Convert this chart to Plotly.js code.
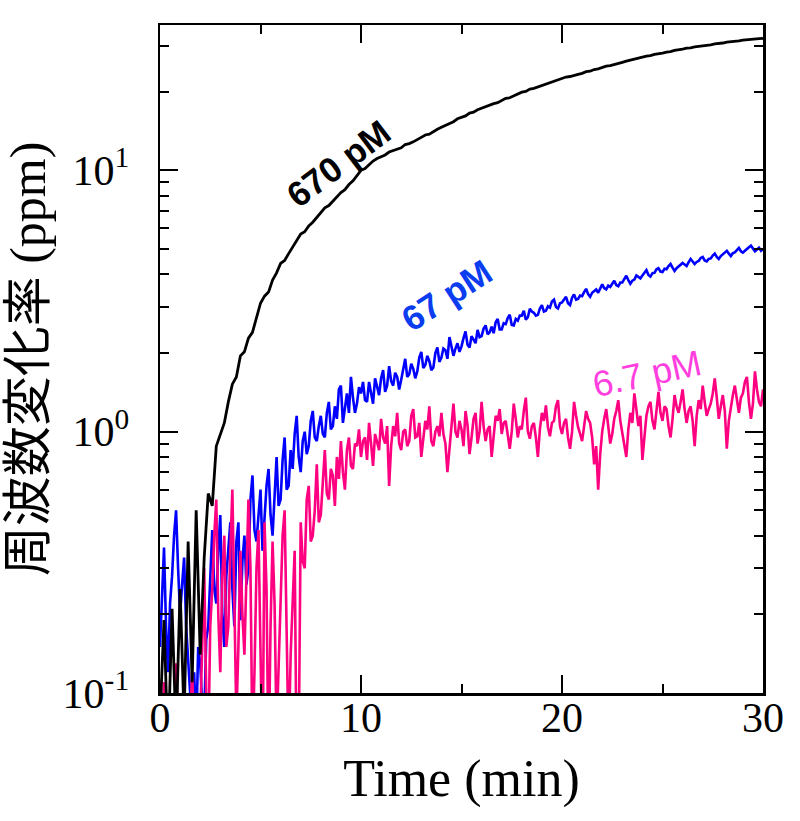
<!DOCTYPE html>
<html>
<head>
<meta charset="utf-8">
<script src="https://cdn.plot.ly/plotly-3.0.1.min.js"></script>
<style>
  html, body { margin: 0; padding: 0; background: #fff; }
  #chart { width: 800px; height: 821px; }
</style>
</head>
<body>
<div id="chart"></div>
<script>
// sampling (min): the 670 pM trace every 0.2 min, the two noisy traces every 0.1 min
var timeStart = 0;
var step670 = 0.2;
var stepNoisy = 0.1;

// frequency change (ppm)
var conc670 = [
  0.08, 0.19, 0.06, 0.21, 0.07, 0.25, 0.08, 0.38, 0.11, 0.50,
  0.14, 0.33, 0.58, 0.52, 0.88, 0.98, 1.08, 1.30, 1.52, 1.62,
  1.95, 2.02, 2.28, 2.40, 2.72, 3.10, 3.30, 3.42, 3.80, 4.05,
  4.40, 4.52, 4.80, 5.08, 5.32, 5.70, 5.82, 6.12, 6.33, 6.62,
  6.90, 7.18, 7.33, 7.62, 7.88, 8.22, 8.43, 8.82, 9.12, 9.58,
  10.0, 10.15, 10.5, 10.85, 11.1, 11.3, 11.45, 11.75, 11.9, 12.05,
  12.2, 12.55, 12.65, 12.85, 13.1, 13.3, 13.65, 13.75, 14.1, 14.35,
  14.6, 14.85, 15.15, 15.35, 15.75, 16.0, 16.15, 16.55, 16.7, 17.05,
  17.3, 17.45, 17.75, 18.0, 18.15, 18.5, 18.85, 18.95, 19.3, 19.65,
  19.9, 20.05, 20.45, 20.6, 20.85, 21.2, 21.45, 21.65, 21.95, 22.15,
  22.5, 22.75, 22.85, 23.15, 23.3, 23.5, 23.85, 23.95, 24.3, 24.45,
  24.8, 25.05, 25.15, 25.45, 25.65, 25.9, 26.15, 26.35, 26.65, 26.85,
  27.1, 27.35, 27.45, 27.75, 27.85, 28.1, 28.35, 28.45, 28.75, 28.85,
  29.1, 29.35, 29.4, 29.65, 29.75, 29.9, 30.15, 30.2, 30.45, 30.5,
  30.7, 30.95, 31.0, 31.25, 31.3, 31.5, 31.65, 31.7, 31.85, 31.9,
  32.0
];

// one row per minute
var conc67 = [
  0.15, 0.25, 0.36, 0.18, 0.12, 0.22, 0.28, 0.40, 0.50, 0.30,
  0.20, 0.26, 0.33, 0.18, 0.14, 0.10, 0.09, 0.12, 0.07, 0.15,
  0.13, 0.09, 0.08, 0.16, 0.18, 0.30, 0.42, 0.25, 0.22, 0.35,
  0.48, 0.20, 0.15, 0.28, 0.35, 0.45, 0.25, 0.18, 0.38, 0.45,
  0.19, 0.32, 0.40, 0.26, 0.30, 0.55, 0.68, 0.42, 0.38, 0.50,
  0.60, 0.35, 0.45, 0.62, 0.72, 0.48, 0.40, 0.58, 0.80, 0.52,
  0.55, 0.78, 0.95, 0.60, 0.62, 0.85, 0.72, 0.98, 1.15, 0.80,
  0.70, 0.92, 1.00, 0.82, 0.88, 1.10, 1.20, 0.95, 0.92, 1.05,
  1.15, 0.98, 0.95, 1.18, 1.30, 1.02, 1.05, 1.25, 1.12, 1.45,
  1.50, 1.08, 1.22, 1.40, 1.18, 1.62, 1.35, 1.18, 1.28, 1.48,
  1.40, 1.55, 1.32, 1.30, 1.55, 1.42, 1.28, 1.60, 1.48, 1.38,
  1.60, 1.72, 1.42, 1.50, 1.78, 1.56, 1.50, 1.68, 1.62, 1.45,
  1.58, 1.75, 1.90, 1.62, 1.66, 1.82, 1.74, 1.60, 1.70, 1.92,
  2.02, 1.75, 1.80, 1.95, 1.86, 1.72, 1.76, 2.00, 2.10, 1.85,
  1.92, 2.08, 2.05, 1.90, 2.30, 2.12, 1.95, 2.08, 2.18, 2.02,
  2.12, 2.28, 2.42, 2.15, 2.10, 2.32, 2.26, 2.18, 2.45, 2.30,
  2.32, 2.48, 2.55, 2.36, 2.40, 2.52, 2.38, 2.62, 2.70, 2.46,
  2.46, 2.60, 2.58, 2.72, 2.80, 2.56, 2.55, 2.70, 2.66, 2.78,
  2.78, 2.90, 2.68, 2.74, 2.95, 2.88, 2.85, 2.78, 2.80, 2.96,
  3.05, 2.88, 2.90, 3.02, 2.98, 3.15, 3.20, 3.00, 2.96, 3.10,
  3.12, 3.22, 3.28, 3.10, 3.05, 3.25, 3.35, 3.20, 3.22, 3.32,
  3.30, 3.42, 3.52, 3.36, 3.28, 3.40, 3.45, 3.50, 3.40, 3.55,
  3.66, 3.54, 3.50, 3.62, 3.58, 3.68, 3.78, 3.64, 3.60, 3.72,
  3.72, 3.84, 3.95, 3.80, 3.68, 3.78, 3.82, 3.96, 3.90, 3.86,
  3.96, 4.08, 4.15, 3.98, 3.92, 4.04, 4.05, 4.18, 4.22, 4.10,
  4.08, 4.20, 4.18, 4.30, 4.38, 4.24, 4.12, 4.22, 4.28, 4.35,
  4.42, 4.36, 4.30, 4.45, 4.58, 4.48, 4.38, 4.46, 4.50, 4.62,
  4.66, 4.52, 4.48, 4.58, 4.60, 4.72, 4.80, 4.66, 4.58, 4.70,
  4.78, 4.86, 4.92, 4.80, 4.70, 4.82, 4.85, 4.95, 5.05, 4.90,
  4.84, 4.92, 4.98, 5.08, 5.15, 5.00, 4.90, 4.98, 5.06, 4.92,
  5.00
];

var conc6_7 = [
  0.05, 0.08, 0.11, 0.06, 0.05, 0.09, 0.07, 0.05, 0.13, 0.08,
  0.05, 0.10, 0.09, 0.06, 0.06, 0.08, 0.12, 0.07, 0.05, 0.06,
  0.08, 0.15, 0.30, 0.10, 0.06, 0.18, 0.25, 0.40, 0.55, 0.20,
  0.12, 0.28, 0.40, 0.15, 0.18, 0.35, 0.60, 0.22, 0.08, 0.15,
  0.35, 0.20, 0.14, 0.28, 0.55, 0.30, 0.06, 0.12, 0.30, 0.42,
  0.10, 0.05, 0.45, 0.25, 0.05, 0.18, 0.38, 0.22, 0.07, 0.12,
  0.25, 0.40, 0.50, 0.15, 0.06, 0.14, 0.22, 0.35, 0.05, 0.06,
  0.45, 0.32, 0.30, 0.55, 0.62, 0.38, 0.40, 0.50, 0.75, 0.45,
  0.48, 0.62, 0.85, 0.58, 0.55, 0.72, 0.68, 0.52, 0.80, 0.66,
  0.92, 0.70, 0.60, 0.85, 0.95, 0.74, 0.72, 0.90, 0.88, 1.02,
  0.80, 0.92, 0.95, 0.78, 1.08, 0.90, 0.74, 0.98, 0.92, 0.85,
  1.12, 0.95, 0.90, 1.05, 0.62, 0.88, 1.05, 0.96, 1.18, 0.90,
  0.85, 1.00, 1.02, 0.88, 0.92, 1.15, 1.22, 0.95, 0.96, 1.08,
  0.80, 0.95, 1.10, 1.02, 1.25, 0.92, 0.88, 1.00, 1.05, 0.96,
  1.18, 0.98, 0.90, 0.70, 0.85, 1.08, 1.28, 1.00, 0.95, 1.10,
  1.02, 0.88, 1.20, 1.06, 0.82, 0.95, 1.12, 1.18, 0.90, 1.00,
  1.30, 1.05, 0.92, 1.02, 1.05, 0.80, 0.95, 1.15, 1.10, 1.22,
  0.98, 1.08, 1.10, 0.96, 0.86, 1.00, 1.28, 1.12, 0.95, 1.05,
  1.02, 1.20, 1.35, 1.00, 0.94, 1.05, 1.08, 0.95, 0.80, 1.02,
  1.18, 1.10, 1.26, 1.04, 0.96, 1.08, 1.10, 1.25, 1.32, 1.05,
  0.98, 1.08, 1.12, 0.95, 0.86, 1.00, 1.30, 1.15, 1.04, 0.98,
  0.92, 1.05, 1.20, 1.12, 1.08, 0.95, 0.75, 0.88, 0.60, 0.82,
  1.00, 1.12, 1.22, 1.05, 0.90, 0.98, 1.12, 1.20, 1.32, 1.10,
  0.98, 0.88, 0.80, 1.02, 1.18, 1.08, 1.40, 1.22, 1.05, 1.15,
  0.78, 0.95, 1.15, 1.25, 1.30, 1.10, 1.02, 1.20, 1.42, 1.18,
  1.10, 1.25, 1.22, 1.05, 0.95, 1.12, 1.38, 1.25, 1.18, 1.30,
  1.45, 1.22, 1.08, 1.20, 1.25, 1.10, 0.88, 1.15, 1.32, 1.22,
  1.50, 1.30, 1.15, 1.22, 1.28, 1.40, 1.60, 1.35, 1.12, 1.25,
  1.38, 1.20, 0.86, 1.10, 1.25, 1.38, 1.50, 1.30, 1.18, 1.35,
  1.40, 1.55, 1.62, 1.30, 1.12, 1.28, 1.70, 1.45, 1.30, 1.25,
  1.45
];

var yTickVals = [0.1, 1, 10];
var yTickText = ['10<sup>-1</sup>', '10<sup>0</sup>', '10<sup>1</sup>'];
var yMinorVals = [0.2, 0.3, 0.4, 0.5, 0.6, 0.7, 0.8, 0.9, 2, 3, 4, 5, 6, 7, 8, 9, 20, 30];
var xTickVals = [0, 10, 20, 30];
var xMinorVals = [5, 15, 25];

var serif = 'Liberation Serif, Times New Roman, serif';
var sans = 'Liberation Sans, Arial, sans-serif';

createPlot();

function createPlot() {
    var blue = {
        x0: timeStart, dx: stepNoisy, y: conc67,
        type: 'scatter', mode: 'lines',
        line: { color: '#0000ff', width: 2.6 },
        name: '67 pM'
    };
    var pink = {
        x0: timeStart, dx: stepNoisy, y: conc6_7,
        type: 'scatter', mode: 'lines',
        line: { color: '#ff0080', width: 2.6 },
        name: '6.7 pM'
    };
    var black = {
        x0: timeStart, dx: step670, y: conc670,
        type: 'scatter', mode: 'lines',
        line: { color: '#000000', width: 2.8 },
        name: '670 pM'
    };

    var layout = {
        width: 800,
        height: 821,
        margin: { l: 160, r: 37, t: 25, b: 128 },
        paper_bgcolor: '#ffffff',
        plot_bgcolor: '#ffffff',
        showlegend: false,
        xaxis: {
            range: [0, 30],
            tickvals: xTickVals,
            ticks: 'inside', ticklen: 18, tickwidth: 2, tickcolor: '#000',
            minor: { tickvals: xMinorVals, ticks: 'inside', ticklen: 9, tickwidth: 2, tickcolor: '#000' },
            showline: true, linewidth: 2.5, linecolor: '#000', mirror: 'ticks',
            showgrid: false, zeroline: false,
            ticklabelstandoff: -14,
            tickfont: { family: serif, size: 42, color: '#000' },
            automargin: true,
            title: { text: 'Time (min)', font: { family: serif, size: 52, color: '#000' }, standoff: 20 }
        },
        yaxis: {
            type: 'log',
            range: [-1, 1.556],
            tickvals: yTickVals, ticktext: yTickText,
            ticks: 'inside', ticklen: 18, tickwidth: 2, tickcolor: '#000',
            minor: { tickvals: yMinorVals, ticks: 'inside', ticklen: 9, tickwidth: 2, tickcolor: '#000' },
            showline: true, linewidth: 2.5, linecolor: '#000', mirror: 'ticks',
            showgrid: false, zeroline: false,
            ticklabelstandoff: 20,
            tickfont: { family: serif, size: 42, color: '#000' },
            title: {
                text: '周波数変化率 (ppm)',
                font: { family: 'Liberation Serif, Noto Sans CJK JP, serif', size: 50, color: '#000' },
                standoff: 4
            }
        },
        annotations: [
            { x: 8.86, y: 1.027, xref: 'x', yref: 'y', text: '<b>670 pM</b>', showarrow: false,
              textangle: -37, font: { family: sans, size: 35, color: '#000000' } },
            { x: 14.23, y: 0.521, xref: 'x', yref: 'y', text: '<b>67 pM</b>', showarrow: false,
              textangle: -33, font: { family: sans, size: 35, color: '#0a3cf0' } },
            { x: 24.23, y: 0.222, xref: 'x', yref: 'y', text: '6.7 pM', showarrow: false,
              textangle: -12, font: { family: sans, size: 36, color: '#ff3ee0' } }
        ]
    };

    Plotly.newPlot(document.getElementById('chart'), [blue, pink, black], layout, { staticPlot: true });
}
</script>
</body>
</html>
